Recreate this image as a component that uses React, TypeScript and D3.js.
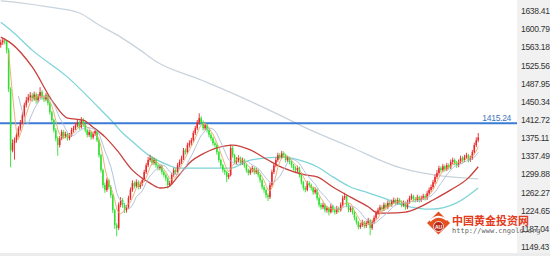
import React from 'react';
import * as d3 from 'd3';

const W = 550;
const H = 256;
const PLOT_RIGHT = 517;

// Daily gold OHLC
const opens = [
  1578,1583,1587,1585,1567,1486,1359,1374,1380,1391,
  1405,1417,1432,1453,1463,1469,1473,1467,1475,1463,
  1471,1480,1469,1465,1473,1457,1438,1422,1401,1384,
  1370,1384,1397,1388,1393,1384,1391,1401,1405,1411,
  1417,1407,1422,1413,1401,1391,1397,1386,1393,1399,
  1380,1349,1318,1287,1277,1297,1283,1266,1235,1204,
  1198,1246,1256,1246,1235,1241,1260,1277,1291,1285,
  1293,1283,1289,1297,1314,1328,1339,1343,1333,1339,
  1328,1322,1326,1314,1308,1301,1287,1291,1308,1318,
  1314,1328,1335,1343,1359,1355,1370,1374,1380,1395,
  1405,1417,1426,1417,1405,1411,1401,1391,1384,1374,
  1370,1355,1339,1328,1318,1314,1304,1308,1364,1349,
  1335,1339,1343,1333,1339,1328,1318,1312,1318,1322,
  1314,1318,1308,1297,1283,1277,1266,1262,1287,1314,
  1328,1339,1349,1345,1353,1349,1339,1343,1335,1328,
  1322,1318,1322,1308,1293,1281,1277,1291,1287,1281,
  1272,1277,1260,1246,1241,1246,1235,1239,1231,1243,
  1235,1231,1239,1235,1246,1260,1264,1246,1235,1239,
  1231,1219,1210,1200,1204,1210,1202,1208,1214,1198,
  1210,1219,1229,1235,1241,1237,1246,1241,1250,1246,
  1252,1256,1250,1256,1252,1246,1250,1241,1252,1260,
  1264,1258,1256,1262,1256,1260,1264,1260,1270,1277,
  1283,1293,1304,1312,1322,1318,1326,1320,1328,1324,
  1335,1339,1333,1328,1335,1343,1339,1345,1349,1339,
  1343,1355,1370,1380,
];
const highs = [
  1589,1593,1592,1588,1571,1490,1382,1386,1396,1409,
  1422,1438,1458,1470,1476,1480,1478,1481,1479,1476,
  1490,1484,1474,1478,1476,1460,1441,1425,1405,1388,
  1389,1402,1401,1398,1396,1395,1406,1410,1416,1424,
  1421,1428,1426,1416,1404,1402,1400,1398,1404,1402,
  1383,1352,1321,1292,1302,1300,1287,1269,1238,1208,
  1251,1262,1260,1250,1246,1265,1282,1297,1295,1299,
  1297,1294,1302,1319,1333,1345,1350,1347,1344,1342,
  1332,1330,1329,1318,1311,1304,1296,1312,1323,1322,
  1333,1340,1348,1364,1363,1375,1380,1385,1400,1410,
  1422,1436,1430,1421,1416,1414,1404,1395,1387,1378,
  1373,1358,1342,1331,1322,1317,1312,1371,1368,1352,
  1345,1349,1346,1344,1342,1331,1321,1323,1327,1325,
  1323,1321,1311,1300,1287,1280,1270,1292,1319,1333,
  1344,1354,1353,1358,1357,1352,1348,1346,1338,1331,
  1326,1327,1325,1311,1296,1285,1296,1295,1290,1284,
  1282,1280,1263,1250,1251,1249,1244,1242,1248,1246,
  1239,1244,1242,1251,1265,1271,1267,1249,1244,1242,
  1234,1222,1213,1209,1215,1213,1213,1219,1217,1215,
  1224,1234,1240,1246,1245,1251,1250,1255,1254,1257,
  1261,1259,1261,1260,1255,1255,1253,1257,1265,1269,
  1267,1262,1267,1265,1265,1269,1268,1275,1282,1288,
  1298,1309,1318,1327,1326,1331,1329,1333,1332,1340,
  1344,1342,1337,1340,1348,1347,1350,1354,1352,1348,
  1360,1375,1386,1395,
];
const lows = [
  1572,1578,1579,1560,1480,1324,1355,1340,1375,1387,
  1400,1413,1428,1448,1458,1462,1460,1462,1456,1458,
  1466,1464,1459,1461,1452,1433,1417,1396,1378,1348,
  1365,1380,1383,1384,1379,1380,1387,1396,1401,1407,
  1402,1404,1408,1396,1386,1387,1381,1382,1389,1376,
  1344,1313,1281,1271,1273,1278,1260,1229,1196,1181,
  1194,1241,1240,1229,1230,1237,1256,1273,1280,1281,
  1278,1279,1285,1294,1310,1324,1335,1328,1329,1323,
  1317,1318,1309,1303,1295,1280,1283,1288,1304,1309,
  1311,1324,1331,1339,1350,1352,1365,1369,1376,1391,
  1401,1412,1412,1400,1401,1396,1386,1379,1369,1365,
  1350,1334,1323,1313,1308,1293,1299,1305,1344,1330,
  1330,1334,1328,1329,1323,1313,1307,1308,1313,1309,
  1310,1303,1292,1278,1271,1260,1254,1258,1283,1310,
  1324,1335,1340,1341,1344,1334,1335,1330,1323,1317,
  1313,1314,1303,1288,1276,1272,1274,1282,1276,1267,
  1268,1255,1241,1236,1237,1230,1230,1224,1228,1230,
  1226,1227,1230,1232,1242,1256,1241,1230,1231,1226,
  1214,1205,1195,1196,1200,1197,1198,1204,1183,1194,
  1206,1215,1225,1231,1232,1233,1236,1237,1241,1242,
  1248,1245,1246,1247,1241,1242,1236,1237,1248,1256,
  1253,1251,1252,1251,1252,1256,1255,1256,1266,1273,
  1279,1289,1300,1308,1313,1314,1315,1316,1319,1320,
  1330,1328,1323,1324,1331,1334,1335,1341,1334,1335,
  1339,1351,1366,1376,
];
const closes = [
  1583,1587,1585,1567,1486,1359,1374,1380,1391,1405,
  1417,1432,1453,1463,1469,1473,1467,1475,1463,1471,
  1480,1469,1465,1473,1457,1438,1422,1401,1384,1370,
  1384,1397,1388,1393,1384,1391,1401,1405,1411,1417,
  1407,1422,1413,1401,1391,1397,1386,1393,1399,1380,
  1349,1318,1287,1277,1297,1283,1266,1235,1204,1198,
  1246,1256,1246,1235,1241,1260,1277,1291,1285,1293,
  1283,1289,1297,1314,1328,1339,1343,1333,1339,1328,
  1322,1326,1314,1308,1301,1287,1291,1308,1318,1314,
  1328,1335,1343,1359,1355,1370,1374,1380,1395,1405,
  1417,1426,1417,1405,1411,1401,1391,1384,1374,1370,
  1355,1339,1328,1318,1314,1304,1308,1364,1349,1335,
  1339,1343,1333,1339,1328,1318,1312,1318,1322,1314,
  1318,1308,1297,1283,1277,1266,1262,1287,1314,1328,
  1339,1349,1345,1353,1349,1339,1343,1335,1328,1322,
  1318,1322,1308,1293,1281,1277,1291,1287,1281,1272,
  1277,1260,1246,1241,1246,1235,1239,1231,1243,1235,
  1231,1239,1235,1246,1260,1264,1246,1235,1239,1231,
  1219,1210,1200,1204,1210,1202,1208,1214,1198,1210,
  1219,1229,1235,1241,1237,1246,1241,1250,1246,1252,
  1256,1250,1256,1252,1246,1250,1241,1252,1260,1264,
  1258,1256,1262,1256,1260,1264,1260,1270,1277,1283,
  1293,1304,1312,1322,1318,1326,1320,1328,1324,1335,
  1339,1333,1328,1335,1343,1339,1345,1349,1339,1343,
  1355,1370,1380,1386,
];

// Slow moving averages, sampled at bar indices
const maRedIdx = [0,5,16,27,34,42,47,53,59,67,76,81,85,90,96,104,110,118,127,136,144,155,161,169,178,187,192,197,206,212,220,229,238,243];
const maRed = [1594,1582,1532,1457,1426,1422,1407,1387,1360,1318,1291,1281,1283,1304,1333,1354,1364,1370,1360,1339,1322,1308,1304,1283,1262,1242,1229,1229,1231,1239,1256,1277,1302,1325];
const maCyanIdx = [0,5,16,34,50,57,62,66,76,85,90,104,117,127,144,155,161,169,178,187,195,206,219,232,243];
const maCyan = [1625,1609,1567,1511,1447,1418,1395,1381,1347,1329,1322,1322,1322,1339,1345,1335,1325,1304,1283,1271,1260,1244,1237,1250,1281];
const maGrayIdx = [0,10,25,40,50,61,71,78,102,122,142,153,178,204,224,243];
const maGray = [1669,1665,1656,1644,1619,1594,1567,1546,1505,1470,1432,1410,1366,1322,1306,1300];

const priceTicks = [1638.41,1600.79,1563.18,1525.56,1487.95,1450.34,1412.72,1375.11,1337.49,1299.88,1262.27,1224.65,1187.04,1149.43];
const levelPrice = 1415.24;

const UP = '#e8262a';
const DOWN = '#2fe02f';

function movingAverage(values: number[], n: number): [number, number][] {
  const out: [number, number][] = [];
  for (let i = n - 1; i < values.length; i++) {
    out.push([i, d3.mean(values.slice(i - n + 1, i + 1)) as number]);
  }
  return out;
}

export default function App() {
  const x = d3
    .scaleBand<number>()
    .domain(d3.range(closes.length))
    .range([0, 479])
    .paddingInner(0.22);
  const cx = (i: number) => (x(i) as number) + x.bandwidth() / 2;
  const y = d3.scaleLinear().domain([1149.43, 1638.41]).range([251.4, 15.7]);

  const sampled = (idx: number[], vals: number[]) =>
    d3
      .line<number>()
      .x((_, k) => cx(idx[k]))
      .y((d) => y(d))
      .curve(d3.curveMonotoneX)(vals) as string;

  const fast = d3
    .line<[number, number]>()
    .x((d) => cx(d[0]))
    .y((d) => y(d[1]));

  const ma5 = movingAverage(closes, 5);
  const ma10 = movingAverage(closes, 10);
  const bw = Math.max(1, x.bandwidth());

  return (
    <svg
      width={W}
      height={H}
      style={{ position: 'absolute', left: 0, top: 0, background: '#fff' }}
      fontFamily="'Liberation Sans', Arial, sans-serif"
    >
      <rect x={0} y={0} width={W} height={H} fill="#ffffff" />
      <rect x={PLOT_RIGHT} y={0} width={W - PLOT_RIGHT} height={H} fill="#f1f1f1" />
      <rect x={0} y={253} width={W} height={3} fill="#ececec" />

      {/* slow averages */}
      <path d={sampled(maGrayIdx, maGray)} fill="none" stroke="#c9d3dc" strokeWidth={1.3} />
      <path d={sampled(maCyanIdx, maCyan)} fill="none" stroke="#7fd4d8" strokeWidth={1.3} />

      {/* horizontal level */}
      <line x1={0} x2={PLOT_RIGHT} y1={y(levelPrice)} y2={y(levelPrice)} stroke="#3a7bd5" strokeWidth={2} />
      <text x={511} y={y(levelPrice) - 2.5} textAnchor="end" fontSize={8.5} fill="#3d75c0" letterSpacing={-0.3}>
        {levelPrice.toFixed(2)}
      </text>

      {/* candles */}
      <g>
        {closes.map((c, i) => {
          const o = opens[i];
          const col = c >= o ? UP : DOWN;
          const top = y(Math.max(o, c));
          const h = Math.max(1, y(Math.min(o, c)) - top);
          return (
            <g key={i}>
              <line x1={cx(i)} x2={cx(i)} y1={y(highs[i])} y2={y(lows[i])} stroke={col} strokeWidth={0.9} />
              <rect x={cx(i) - bw / 2} y={top} width={bw} height={h} fill={col} />
            </g>
          );
        })}
      </g>

      <path d={sampled(maRedIdx, maRed)} fill="none" stroke="#c8403c" strokeWidth={1.3} />
      <path d={fast(ma10) as string} fill="none" stroke="#a9bcd8" strokeWidth={0.9} />
      <path d={fast(ma5) as string} fill="none" stroke="#e8a868" strokeWidth={0.9} />

      {/* price axis */}
      {priceTicks.map((t) => (
        <text key={t} x={521} y={y(t) - 1.5} fontSize={8.5} fill="#333" letterSpacing={-0.3}>
          {t.toFixed(2)}
        </text>
      ))}

      {/* site mark */}
      <g>
        <path d="M438.5,211.5 L450,223 L438.5,234.5 L427,223 Z" fill="#e5501f" />
        <path d="M430,221 Q438,213 447,220" fill="none" stroke="#ffffff" strokeWidth={2} />
        <circle cx={438.5} cy={226.5} r={5} fill="#b8281a" stroke="#ffffff" strokeWidth={0.8} />
        <text x={438.5} y={228.5} textAnchor="middle" fontSize={5} fontWeight={700} fill="#ffffff">
          AU
        </text>
        <text x={452} y={224.5} fontSize={11} fontWeight={700} fill="#e23c1c" fontFamily="'Noto Sans CJK SC', sans-serif">
          中国黄金投资网
        </text>
        <text x={452} y={233} fontSize={7} fill="#666" fontFamily="'DejaVu Sans Mono', monospace">
          http://www.cngold.org
        </text>
      </g>
    </svg>
  );
}
